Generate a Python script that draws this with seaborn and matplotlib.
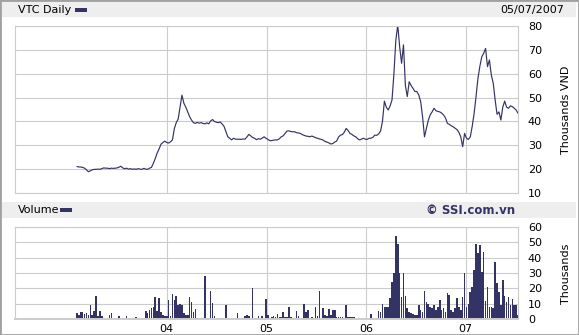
import numpy as np
import pandas as pd
import matplotlib
matplotlib.use("Agg")
import matplotlib.pyplot as plt
import matplotlib.dates as mdates
from matplotlib.patches import Rectangle
import seaborn as sns

# ---------------- data ----------------
start_date = "2003-02-06"
price = [
    21.2, 21.0, 21.0, 20.8, 20.5, 19.8, 19.0, 19.4, 19.8, 20.0,
    20.0, 20.1, 20.0, 20.3, 20.6, 20.5, 20.5, 20.3, 20.5, 20.4,
    20.5, 20.6, 20.9, 21.3, 20.6, 20.2, 20.5, 20.1, 20.3, 20.0,
    20.2, 20.0, 20.3, 20.1, 20.0, 20.4, 20.1, 20.0, 20.5, 20.8,
    22.5, 24.5, 26.8, 28.5, 30.5, 31.2, 31.8, 31.2,
    31.0, 31.5, 32.3, 37.0, 39.5, 41.0, 46.0, 51.0, 47.6, 46.0,
    44.0, 42.0, 40.6, 39.5, 39.2, 39.6, 39.3, 39.5, 39.2, 39.0,
    39.4, 39.0, 40.2, 40.8, 40.0, 39.7, 39.5, 39.8, 39.0, 38.0,
    35.8, 33.6, 33.0, 32.3, 33.0, 32.6, 32.6, 32.6, 32.5, 32.7,
    32.6, 33.5, 34.6, 34.0, 33.3, 33.0, 32.4, 32.8, 32.6, 33.0, 33.6, 33.0,
    32.5, 32.0, 32.0, 32.2, 32.3, 32.3, 32.8, 33.6, 34.0, 35.0,
    36.0, 36.1, 35.8, 35.7, 35.7, 35.3, 35.2, 35.0, 34.5, 34.2,
    33.9, 33.8, 33.6, 33.9, 33.6, 33.2, 33.0, 32.7, 32.5, 32.2,
    31.6, 31.4, 31.0, 30.6, 30.8, 31.4, 31.8, 33.5, 34.3, 34.5,
    35.5, 37.1, 36.2, 35.0, 34.6, 34.0, 33.6, 32.8, 32.3, 32.6, 33.0, 32.6,
    32.5, 33.0, 33.0, 33.4, 34.3, 34.2, 34.8, 36.0, 40.0, 48.5,
    46.0, 44.8, 46.5, 49.0, 60.0, 74.0, 80.3, 71.2, 64.3, 72.0,
    55.0, 50.4, 56.6, 55.0, 53.8, 52.5, 52.5, 51.1, 48.3, 42.0,
    33.6, 37.1, 40.5, 42.8, 44.0, 45.5, 44.5, 44.2, 44.0, 43.5,
    42.7, 41.5, 39.2, 38.8, 38.2, 37.8, 37.2, 36.6, 35.5, 33.6, 29.5, 35.0,
    33.0, 32.5, 33.6, 38.0, 43.4, 50.4, 58.0, 63.0, 67.0, 68.5,
    70.5, 62.9, 65.7, 59.4, 56.0, 49.0, 43.0, 44.0, 40.6, 46.0,
    48.5, 46.0, 45.5, 46.5, 46.2, 45.5, 44.8, 43.4,
]
volume = [
    4, 3, 5, 4.5, 3.5, 4, 3, 9.3, 3, 5.4,
    15, 2, 5.4, 2.4, 0.8, 0.7, 0.7, 2.8, 3.9, 0,
    0, 0, 2.2, 0, 0, 0, 2.2, 0, 0, 0,
    0, 1.5, 0, 0, 0, 0, 5.4, 3.9, 6, 7,
    8, 14.7, 5.4, 14, 4.5, 3, 2, 2,
    12.5, 2.4, 16.4, 12.5, 15.3, 9.5, 10, 9, 4, 3,
    2.5, 14.7, 11.4, 4.5, 6.7, 1, 1, 1, 1, 28,
    1, 1, 18.6, 10.6, 2, 1, 1, 1, 1, 0,
    9.3, 1, 0, 0, 0, 0, 3.9, 0.7, 0.7, 0.7,
    2, 3, 2, 0, 20.5, 0.7, 0, 2.4, 0, 2.2, 0, 13.2,
    2.8, 0.8, 1.5, 2, 1.5, 3.2, 1.5, 1.5, 4.5, 1.5,
    1.5, 8.2, 1.5, 1, 0, 5.4, 2.4, 0, 0, 10,
    4.5, 6, 1, 1.2, 1, 8.2, 2, 18.4, 1, 7.6,
    2.8, 2.4, 6.7, 2.5, 6, 6, 1.7, 1.7, 1.7, 1.7,
    1, 9.3, 1.5, 1.5, 1.5, 1.5, 0.5, 0.5, 0.5, 1, 1, 0.5,
    0, 0.5, 3.2, 1, 0.5, 1, 5.4, 4.5, 9.7, 8.2,
    8.2, 8, 14, 24, 29.8, 54, 48.8, 29.8, 14.7, 29.8,
    15.3, 7, 5, 4, 3.5, 3, 3, 9.3, 6, 5,
    18.4, 11.4, 10.2, 8, 7, 9, 6, 8, 12.7, 6,
    7, 5, 16.8, 15.8, 6, 5, 7, 14, 8, 6, 14.7, 29.8,
    8, 10, 18, 21.2, 32, 48.6, 42.8, 48.2, 30.9, 43.8,
    12, 21.2, 8, 8, 7, 37.4, 23.3, 18, 9, 25.5,
    15, 11.4, 14.7, 9, 13.2, 9.3, 9.3, 2.8,
]
year_ticks = ["2004-01-01", "2005-01-01", "2006-01-01", "2007-01-01"]
year_labels = ["04", "05", "06", "07"]
price_ticks = [10, 20, 30, 40, 50, 60, 70, 80]
volume_ticks = [0, 10, 20, 30, 40, 50, 60]
title_text = "VTC Daily"
date_text = "05/07/2007"
volume_text = "Volume"
credit_text = "© SSI.com.vn"
price_unit = "Thousands VND"
volume_unit = "Thousands"

# ---------------- figure ----------------
W, H = 579, 335
NAVY = "#333366"
GRID = "#cccccc"

sns.set_theme(style="white")
plt.rcParams["font.family"] = ["DejaVu Sans"]

dates = pd.date_range(start_date, periods=len(price), freq="7D")
xnum = mdates.date2num(dates)
df = pd.DataFrame({"x": xnum, "price": price, "volume": volume})

fig = plt.figure(figsize=(W / 100, H / 100), dpi=100)
fig.patch.set_facecolor("white")


def fx(px):
    return px / W


def fy(py):
    return 1 - py / H


L, R = 15.3, 517.5
ax1 = fig.add_axes([fx(L), fy(193.3), (R - L) / W, (193.3 - 25.7) / H])
ax2 = fig.add_axes([fx(L), fy(319.3), (R - L) / W, (319.3 - 226.7) / H])

sns.lineplot(data=df, x="x", y="price", ax=ax1, color=NAVY, lw=0.85,
             estimator=None, legend=False)
sns.histplot(data=df, x="x", weights="volume", binwidth=7,
             binrange=(float(xnum[0]) - 3.5, float(xnum[-1]) + 3.5), ax=ax2,
             color=NAVY, shrink=0.85, linewidth=0, alpha=1, legend=False)

xlim = (mdates.date2num(pd.Timestamp("2002-06-25")),
        mdates.date2num(pd.Timestamp("2007-07-10")))
tick_pos = [mdates.date2num(pd.Timestamp(t)) for t in year_ticks]

for ax in (ax1, ax2):
    ax.set_xlim(*xlim)
    ax.set_xticks(tick_pos)
    ax.set_facecolor("white")
    ax.grid(True, color=GRID, lw=0.8)
    ax.set_axisbelow(True)
    ax.yaxis.tick_right()
    ax.tick_params(axis="both", length=0, labelsize=8, colors="black")
    ax.tick_params(axis="y", pad=7.5)
    ax.tick_params(axis="x", pad=3.5)
    ax.set_xlabel("")
    ax.set_ylabel("")
    for s in ax.spines.values():
        s.set_color(GRID)
        s.set_linewidth(0.8)

ax1.set_ylim(10, 80)
ax1.set_yticks(price_ticks)
ax1.set_xticklabels([])
ax2.set_ylim(0, 60)
ax2.set_yticks(volume_ticks)
ax2.set_xticklabels(year_labels)
ax2.spines["bottom"].set_linewidth(1.4)

# header bands
for y0, y1 in [(1.0, 16.5), (202.3, 217.7)]:
    fig.add_artist(Rectangle((fx(2), fy(y1)), (576 - 2) / W, (y1 - y0) / H,
                             transform=fig.transFigure, facecolor="#eeeeee",
                             edgecolor="none", zorder=0))
# legend swatches
for x0, yc in [(75, 9.7), (60, 210.3)]:
    fig.add_artist(Rectangle((fx(x0), fy(yc + 2)), 12 / W, 4 / H,
                             transform=fig.transFigure, facecolor=NAVY,
                             edgecolor="none"))
# outer border
fig.add_artist(Rectangle((0, 0), 1, 1, transform=fig.transFigure, fill=False,
                         edgecolor="#a0a0a0", lw=2))

fig.text(fx(17.7), fy(9.7), title_text, ha="left", va="center", fontsize=8,
         color="black")
fig.text(fx(564), fy(9.7), date_text, ha="right", va="center", fontsize=8,
         color="black")
fig.text(fx(17.7), fy(210.3), volume_text, ha="left", va="center", fontsize=8,
         color="black")
fig.text(fx(515), fy(210.3), credit_text, ha="right", va="center", fontsize=8.5,
         color=NAVY, fontweight="bold")
fig.text(fx(566), fy(109.5), price_unit, ha="center", va="center", fontsize=8,
         rotation=90, color="black")
fig.text(fx(566), fy(273.5), volume_unit, ha="center", va="center", fontsize=8,
         rotation=90, color="black")

fig.savefig("out.png", dpi=100)
